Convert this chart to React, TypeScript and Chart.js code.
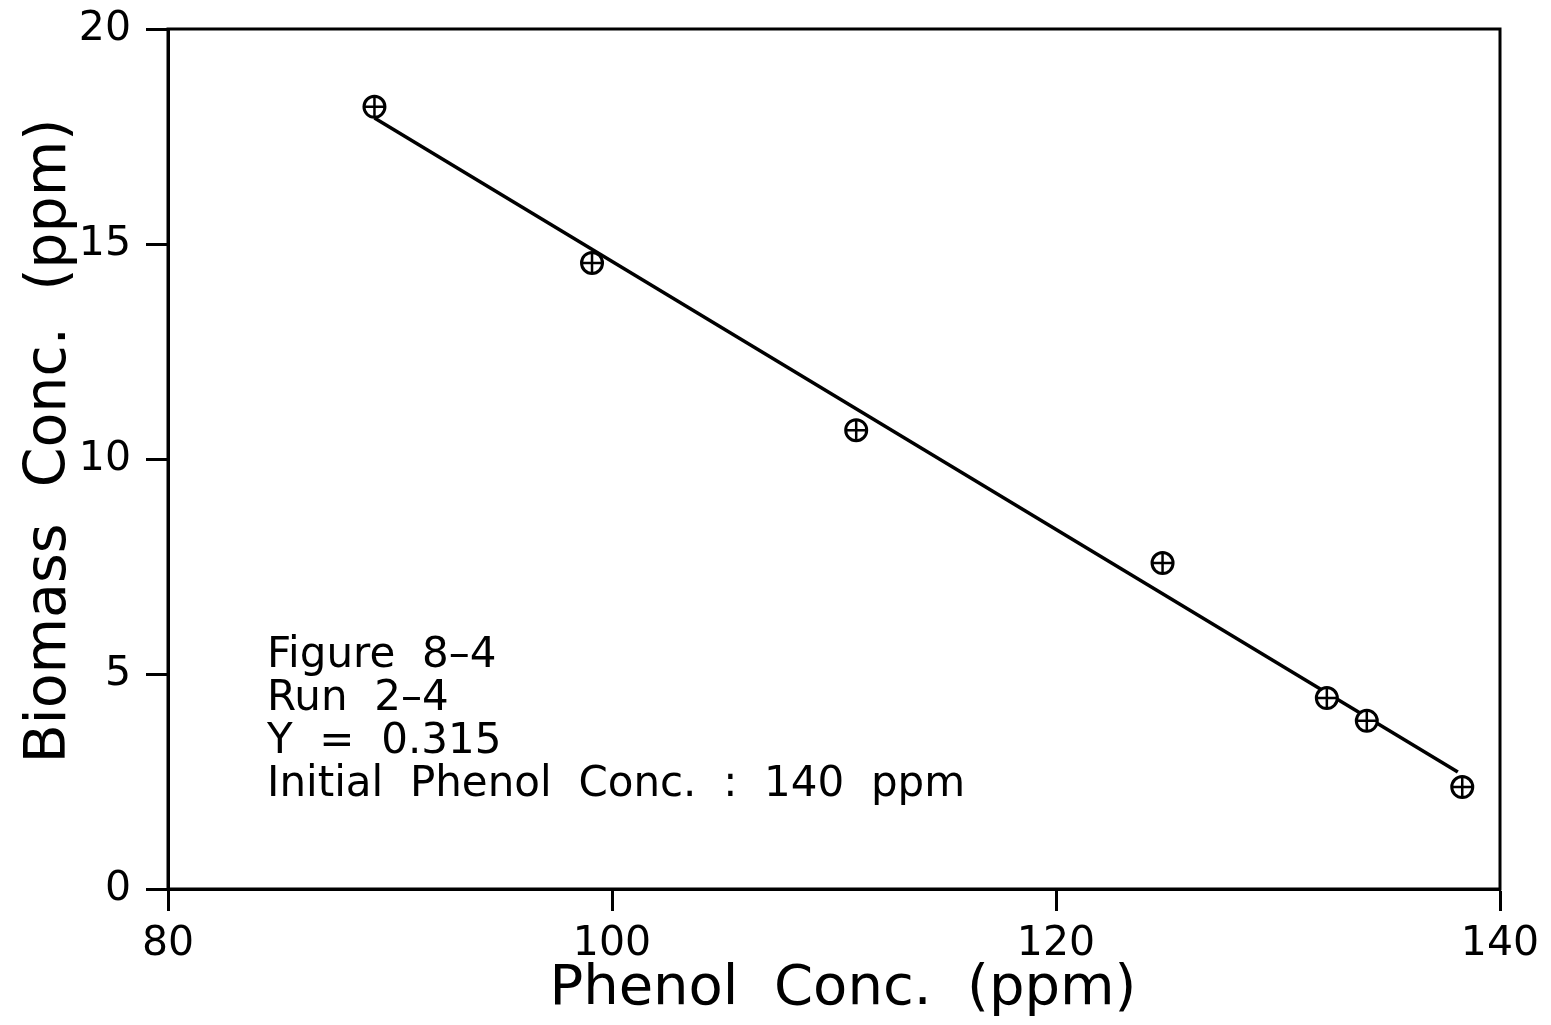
import React, { useEffect, useRef } from 'react';
import { Chart, registerables } from 'chart.js';

Chart.register(...registerables);

// ---- Data ----
const phenolConc = [89.3, 99.1, 111.0, 124.8, 132.2, 134.0, 138.3];
const biomassConc = [18.19, 14.56, 10.67, 7.58, 4.44, 3.91, 2.37];
const fitLineX = [89.3, 138.1];
const fitLineY = [17.93, 2.72];
const xTicks = [80, 100, 120, 140];
const yTicks = [0, 5, 10, 15, 20];
const annotationLines = [
  'Figure  8–4',
  'Run  2–4',
  'Y  =  0.315',
  'Initial  Phenol  Conc.  :  140  ppm',
];
const xTitle = ' Phenol  Conc.  (ppm)';
const yTitle = '  Biomass  Conc.  (ppm)';

const FONT = '"DejaVu Sans", "Liberation Sans", sans-serif';

const framePlugin = {
  id: 'frameBox',
  beforeDatasetsDraw(chart: any) {
    const { ctx, chartArea } = chart;
    ctx.save();
    ctx.strokeStyle = '#000';
    ctx.lineWidth = 3;
    ctx.strokeRect(chartArea.left, chartArea.top, chartArea.right - chartArea.left, chartArea.bottom - chartArea.top);
    ctx.restore();
  },
};

const annotationPlugin = {
  id: 'noteText',
  afterDraw(chart: any) {
    const { ctx, chartArea } = chart;
    ctx.save();
    ctx.fillStyle = '#000';
    ctx.font = `42px ${FONT}`;
    ctx.textAlign = 'left';
    ctx.textBaseline = 'alphabetic';
    const x0 = chartArea.left + 99;
    const y0 = chartArea.top + 638;
    annotationLines.forEach((line, i) => {
      ctx.fillText(line, x0, y0 + i * 43);
    });
    ctx.restore();
  },
};

export default function App() {
  const canvasRef = useRef<HTMLCanvasElement | null>(null);

  useEffect(() => {
    document.body.style.margin = '0';
    document.body.style.overflow = 'hidden';
    const canvas = canvasRef.current;
    if (!canvas) return;

    const points = phenolConc.map((x, i) => ({ x, y: biomassConc[i] }));
    const fit = fitLineX.map((x, i) => ({ x, y: fitLineY[i] }));

    const chart = new Chart(canvas, {
      type: 'scatter',
      data: {
        datasets: [
          {
            type: 'line',
            label: 'fit',
            data: fit,
            borderColor: '#000',
            borderWidth: 3.5,
            pointRadius: 0,
            fill: false,
            order: 3,
          } as any,
          {
            label: 'circles',
            data: points,
            pointStyle: 'circle',
            pointRadius: 10.5,
            pointBorderWidth: 3,
            pointBorderColor: '#000',
            pointBackgroundColor: '#fff',
            order: 2,
          },
          {
            label: 'crosses',
            data: points,
            pointStyle: 'cross',
            pointRadius: 10.5,
            pointBorderWidth: 2.5,
            pointBorderColor: '#000',
            pointBackgroundColor: '#000',
            order: 1,
          },
        ],
      },
      options: {
        animation: false,
        responsive: true,
        maintainAspectRatio: false,
        layout: { padding: { top: 29, right: 51, left: 16, bottom: 2 } },
        plugins: {
          legend: { display: false },
          tooltip: { enabled: false },
        },
        scales: {
          x: {
            type: 'linear',
            min: 80,
            max: 140,
            afterBuildTicks: (scale: any) => {
              scale.ticks = xTicks.map((v) => ({ value: v }));
            },
            afterFit: (scale: any) => {
              scale.height = 1025 - 889 - 2;
              scale.paddingLeft = 0;
              scale.paddingRight = 0;
            },
            border: { display: true, color: '#000', width: 3 },
            grid: {
              display: true,
              drawOnChartArea: false,
              drawTicks: true,
              tickLength: 22,
              tickColor: '#000',
              tickWidth: 3,
              color: '#000',
            },
            ticks: {
              color: '#000',
              font: { family: FONT, size: 41 },
              padding: 9,
              maxRotation: 0,
            },
            title: {
              display: true,
              text: xTitle,
              color: '#000',
              font: { family: FONT, size: 56 },
              padding: 0,
            },
          },
          y: {
            type: 'linear',
            min: 0,
            max: 20,
            afterBuildTicks: (scale: any) => {
              scale.ticks = yTicks.map((v) => ({ value: v }));
            },
            afterFit: (scale: any) => {
              scale.width = 168 - 16;
              scale.paddingTop = 0;
              scale.paddingBottom = 0;
            },
            border: { display: true, color: '#000', width: 3 },
            grid: {
              display: true,
              drawOnChartArea: false,
              drawTicks: true,
              tickLength: 22,
              tickColor: '#000',
              tickWidth: 3,
              color: '#000',
            },
            ticks: {
              color: '#000',
              font: { family: FONT, size: 41 },
              padding: 15,
            },
            title: {
              display: true,
              text: yTitle,
              color: '#000',
              font: { family: FONT, size: 57 },
              padding: 0,
            },
          },
        },
      },
      plugins: [framePlugin, annotationPlugin],
    });

    return () => {
      chart.destroy();
    };
  }, []);

  return (
    <div style={{ width: '1551px', height: '1025px', position: 'relative', background: '#fff' }}>
      <canvas ref={canvasRef} />
    </div>
  );
}
